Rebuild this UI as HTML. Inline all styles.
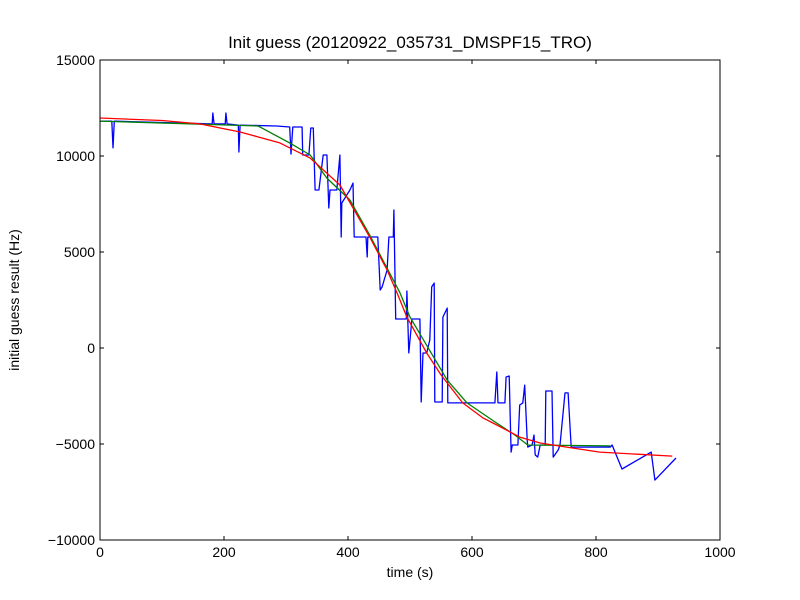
<!DOCTYPE html>
<html><head><meta charset="utf-8"><style>
body{margin:0;background:#fff;}
svg{display:block;font-family:"Liberation Sans","DejaVu Sans",sans-serif;}
</style></head><body>
<svg id="chart" width="800" height="600" viewBox="0 0 800 600">
<rect width="800" height="600" fill="#fff"/>
<text x="410" y="48" font-size="17" text-anchor="middle">Init guess (20120922_035731_DMSPF15_TRO)</text>
<text x="410" y="577" font-size="14" text-anchor="middle">time (s)</text>
<text x="19" y="300" font-size="14" text-anchor="middle" transform="rotate(-90 19 300)">initial guess result (Hz)</text>
<g id="plot"></g>
</svg>
<script>
const xTicks = [0, 200, 400, 600, 800, 1000];
const yTicks = [-10000, -5000, 0, 5000, 10000, 15000];
const yTickLabels = ["\u221210000", "\u22125000", "0", "5000", "10000", "15000"];
const blueT = [0,19,21,23,129,181,182,184,202,203,205,223,224,226,285,306,308,311,326,327,337,340,344,347,353,360,366,369,371,382,387,389,390,403,408,410,429,431,432,448,452,455,463,466,473,474,477,494,495,498,503,516,518,521,527,532,535,539,540,552,553,560,561,637,640,642,653,655,660,663,665,674,677,682,685,689,690,697,700,702,706,710,718,719,729,731,739,742,750,755,760,823,826,842,889,895,929];
const blueF = [11820,11820,10420,11820,11720,11670,12240,11670,11670,12240,11670,11610,10210,11610,11560,11510,10100,11510,11510,10050,10050,11460,11460,8230,8230,10050,10050,7290,8230,8230,10050,5780,7550,8230,8590,5780,5780,4740,5780,5780,3020,3180,4060,5780,5780,7190,1510,1510,2970,-260,1510,1510,-2810,-260,-260,420,3180,3380,-2810,-2810,1610,2080,-2860,-2860,-1250,-2860,-2860,-1510,-1460,-5420,-5050,-5050,-2970,-2860,-1930,-4790,-5160,-5050,-4530,-5570,-5680,-5050,-5050,-2240,-2240,-5680,-5310,-5050,-2340,-2340,-5160,-5160,-5050,-6300,-5420,-6880,-5730];
const greenT = [0,255,306,339,366,403,435,484,500,560,592,637,669,690,823];
const greenF = [11820,11560,10680,10050,8850,7710,5880,2860,1610,-1670,-2860,-3850,-4530,-5050,-5100];
const redT = [0,100,161,226,290,339,387,435,463,480,495,527,550,585,618,637,677,710,750,806,923];
const redF = [11980,11850,11670,11250,10680,9890,8490,5780,4060,2800,1610,-260,-1400,-2860,-3650,-3960,-4640,-4950,-5150,-5420,-5630];

const X0=100,X1=720,Y0=540,Y1=60;
const xs = v => X0 + (v-0)/(1000-0)*(X1-X0);
const ys = v => Y0 - (v+10000)/25000*(Y0-Y1);
const NS="http://www.w3.org/2000/svg";
const plot=document.getElementById('plot');
function mk(tag, attrs){const e=document.createElementNS(NS,tag);for(const k in attrs)e.setAttribute(k,attrs[k]);return e;}

function series(T,F,color,name){
  const p=mk('polyline',{points:T.map((t,i)=>xs(t).toFixed(1)+','+ys(F[i]).toFixed(1)).join(' '),fill:'none',stroke:color,'stroke-width':1.3,'stroke-linejoin':'round'});
  
  
  plot.appendChild(p);
}
series(blueT,blueF,'#0000ff','blue-series');
series(greenT,greenF,'#008000','green-series');
series(redT,redF,'#ff0000','red-series');

const frame=mk('rect',{x:X0,y:Y1,width:X1-X0,height:Y0-Y1,fill:'none',stroke:'#000','stroke-width':1});


plot.appendChild(frame);

xTicks.forEach(v=>{
  const x=xs(v);
  const t1=mk('line',{x1:x,x2:x,y1:Y0,y2:Y0-4,stroke:'#000'});
  
  
  plot.appendChild(t1);
  const t2=mk('line',{x1:x,x2:x,y1:Y1,y2:Y1+4,stroke:'#000'});
  
  
  plot.appendChild(t2);
  const lb=mk('text',{x:x,y:Y0+17,'font-size':14,'text-anchor':'middle'});
  lb.textContent=String(v);
  
  
  plot.appendChild(lb);
});
yTicks.forEach((v,i)=>{
  const y=ys(v);
  const t1=mk('line',{x1:X0,x2:X0+4,y1:y,y2:y,stroke:'#000'});
  
  
  plot.appendChild(t1);
  const t2=mk('line',{x1:X1,x2:X1-4,y1:y,y2:y,stroke:'#000'});
  
  
  plot.appendChild(t2);
  const lb=mk('text',{x:X0-5,y:y+5,'font-size':14,'text-anchor':'end'});
  lb.textContent=yTickLabels[i];
  
  
  plot.appendChild(lb);
});
</script>
</body></html>
